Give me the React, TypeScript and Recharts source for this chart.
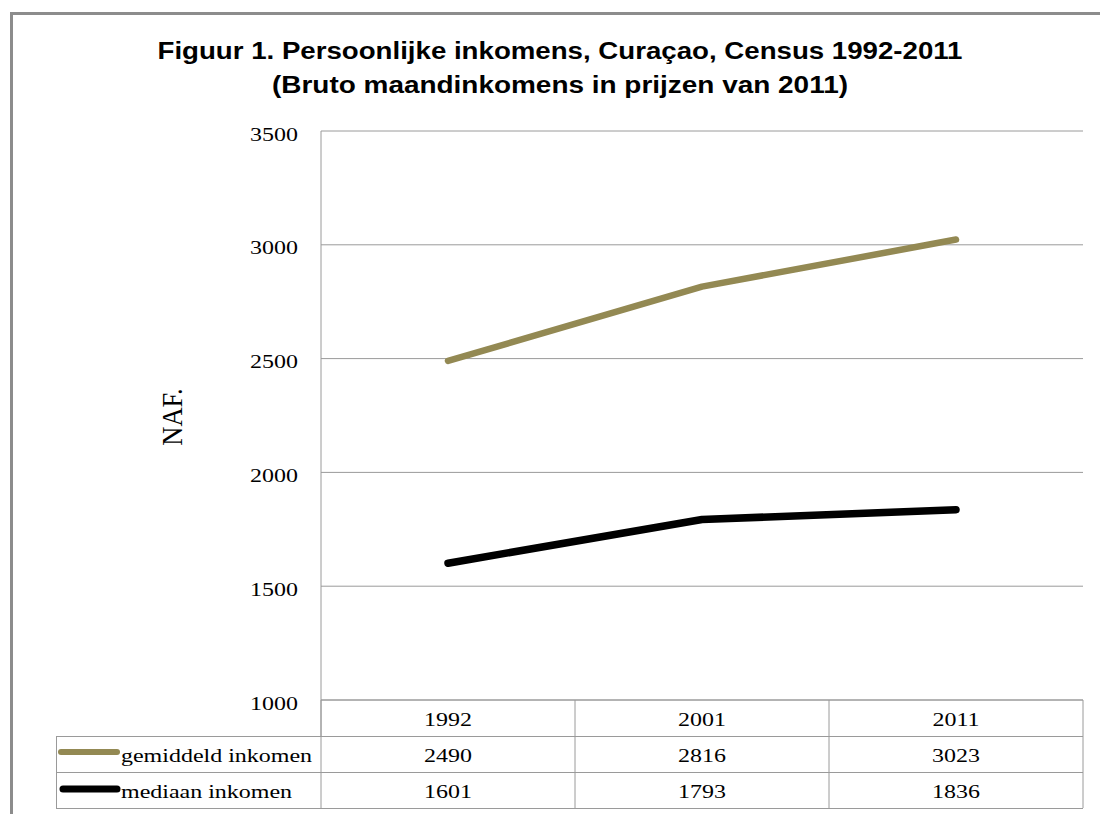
import React from "react";
import { LineChart, Line, XAxis, YAxis, CartesianGrid } from "recharts";

const years = ["1992", "2001", "2011"];
const gemiddeld = [2490, 2816, 3023];
const mediaan = [1601, 1793, 1836];
const yTicks = [1000, 1500, 2000, 2500, 3000, 3500];
const seriesNames = ["gemiddeld inkomen", "mediaan inkomen"];
const titleLines = [
  "Figuur 1. Persoonlijke inkomens, Curaçao, Census 1992-2011",
  "(Bruto maandinkomens in prijzen van 2011)",
];

const rows = years.map((year, i) => ({
  year,
  gemiddeld: gemiddeld[i],
  mediaan: mediaan[i],
}));

const W = 1100;
const H = 814;
const PLOT_LEFT = 321;
const PLOT_RIGHT = 1083;
const PLOT_TOP = 131;
const PLOT_BOTTOM = 700;
const ROW_H = 36;
const TABLE_LEFT = 56;
const BAND = (PLOT_RIGHT - PLOT_LEFT) / years.length;
const SX = 1.23; // the picture is stretched sideways
const GOLD = "#938953";
const GRID = "#9a9a9a";
const SERIF = "'Liberation Serif', 'Times New Roman', serif";

function Wide({ x, y, anchor = "middle", children }: any) {
  return (
    <text
      transform={`translate(${x},${y}) scale(${SX},1)`}
      textAnchor={anchor}
      fontFamily={SERIF}
      fontSize={19.5}
      fill="#000"
    >
      {children}
    </text>
  );
}

function YTick(props: any) {
  const { y, payload } = props;
  return <Wide x={PLOT_LEFT - 23} y={y + 9.5} anchor="end">{payload.value}</Wide>;
}

function TableTick(props: any) {
  const { x, payload } = props;
  const i = payload.index;
  const last = i === years.length - 1;
  const bottom = PLOT_BOTTOM + ROW_H * 3;
  return (
    <g>
      <line x1={x - BAND / 2} x2={x - BAND / 2} y1={PLOT_BOTTOM} y2={bottom} stroke={GRID} />
      {last && <line x1={x + BAND / 2} x2={x + BAND / 2} y1={PLOT_BOTTOM} y2={bottom} stroke={GRID} />}
      <Wide x={x} y={PLOT_BOTTOM + 26}>{years[i]}</Wide>
      <Wide x={x} y={PLOT_BOTTOM + ROW_H + 26}>{gemiddeld[i]}</Wide>
      <Wide x={x} y={PLOT_BOTTOM + ROW_H * 2 + 26}>{mediaan[i]}</Wide>
    </g>
  );
}

export default function App() {
  return (
    <div style={{ position: "absolute", left: 0, top: 0, width: W, height: H, overflow: "hidden", background: "#fff" }}>
      <div
        style={{
          position: "absolute",
          left: 10,
          top: 12,
          width: 1300,
          height: 1000,
          borderLeft: "3px solid #8c8c8c",
          borderTop: "3px solid #8c8c8c",
        }}
      />
      <div style={{ position: "absolute", left: 0, top: 0 }}>
        <LineChart
          width={W}
          height={H}
          data={rows}
          margin={{ top: PLOT_TOP, right: W - PLOT_RIGHT, bottom: 6, left: PLOT_LEFT - 70 }}
        >
          <CartesianGrid vertical={false} stroke={GRID} />
          <XAxis
            dataKey="year"
            axisLine={{ stroke: GRID }}
            tickLine={false}
            tickSize={0}
            height={H - PLOT_BOTTOM - 6}
            padding={{ left: BAND / 2, right: BAND / 2 }}
            interval={0}
            tick={<TableTick />}
          />
          <YAxis
            width={70}
            domain={[1000, 3500]}
            ticks={yTicks}
            axisLine={{ stroke: GRID }}
            tickLine={false}
            tickSize={0}
            tick={<YTick />}
          />
          <Line
            dataKey="gemiddeld"
            stroke={GOLD}
            strokeWidth={6.5}
            strokeLinecap="round"
            strokeLinejoin="round"
            dot={false}
            isAnimationActive={false}
          />
          <Line
            dataKey="mediaan"
            stroke="#000"
            strokeWidth={7.5}
            strokeLinecap="round"
            strokeLinejoin="round"
            dot={false}
            isAnimationActive={false}
          />
        </LineChart>
      </div>
      <svg width={W} height={H} style={{ position: "absolute", left: 0, top: 0, pointerEvents: "none" }}>
        <text
          x={560}
          y={59}
          textAnchor="middle"
          fontFamily="'Liberation Sans', Arial, sans-serif"
          fontWeight="bold"
          fontSize={23}
          textLength={805}
          lengthAdjust="spacingAndGlyphs"
        >
          {titleLines[0]}
        </text>
        <text
          x={560}
          y={93}
          textAnchor="middle"
          fontFamily="'Liberation Sans', Arial, sans-serif"
          fontWeight="bold"
          fontSize={23}
          textLength={576}
          lengthAdjust="spacingAndGlyphs"
        >
          {titleLines[1]}
        </text>
        <text
          transform="translate(182,417) rotate(-90) scale(1.15,1.27)"
          textAnchor="middle"
          fontFamily={SERIF}
          fontSize={23}
        >
          NAF.
        </text>
        {/* data table frame */}
        <line x1={PLOT_LEFT} x2={PLOT_LEFT} y1={PLOT_BOTTOM} y2={PLOT_BOTTOM + ROW_H} stroke={GRID} />
        {[1, 2, 3].map((r) => (
          <line
            key={r}
            x1={TABLE_LEFT}
            x2={PLOT_RIGHT}
            y1={PLOT_BOTTOM + ROW_H * r + 0.5}
            y2={PLOT_BOTTOM + ROW_H * r + 0.5}
            stroke={GRID}
          />
        ))}
        <line x1={TABLE_LEFT + 0.5} x2={TABLE_LEFT + 0.5} y1={PLOT_BOTTOM + ROW_H} y2={PLOT_BOTTOM + ROW_H * 3} stroke={GRID} />
        <line x1={61} x2={117} y1={752} y2={752} stroke={GOLD} strokeWidth={6} strokeLinecap="round" />
        <line x1={63} x2={117} y1={789} y2={789} stroke="#000" strokeWidth={7} strokeLinecap="round" />
        <Wide x={121} y={PLOT_BOTTOM + ROW_H + 26} anchor="start">{seriesNames[0]}</Wide>
        <Wide x={121} y={PLOT_BOTTOM + ROW_H * 2 + 26} anchor="start">{seriesNames[1]}</Wide>
      </svg>
    </div>
  );
}
